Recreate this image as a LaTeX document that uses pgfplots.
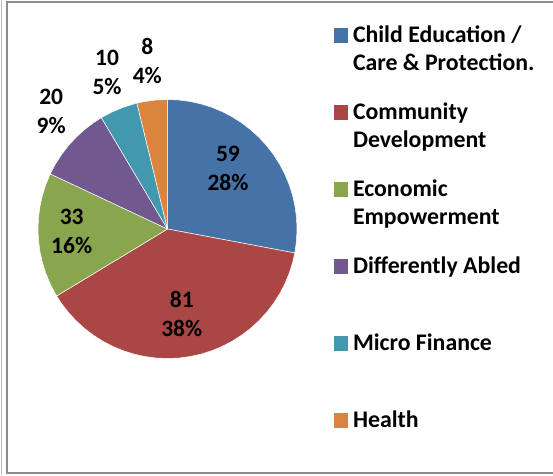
\documentclass[border=0pt]{standalone}
\usepackage{pgfplots}
\pgfplotsset{compat=1.18}
\usepgfplotslibrary{polar}
\usepackage{fontspec}
\setmainfont{Carlito}
\definecolor{cBlue}{HTML}{4572A7}
\definecolor{cRed}{HTML}{AA4643}
\definecolor{cGreen}{HTML}{89A54E}
\definecolor{cPurple}{HTML}{71588F}
\definecolor{cAqua}{HTML}{4198AF}
\definecolor{cOrange}{HTML}{DB843D}
\begin{document}
\begin{tikzpicture}
\useasboundingbox (0pt,0pt) rectangle (553pt,475pt);
\draw[black!25, line width=1pt] (1pt,0pt) -- (1pt,475pt);
\draw[black!45, line width=2pt] (7pt,2pt) rectangle (600pt,473pt);
\begin{axis}[at={(167.5pt,246pt)}, anchor=center, width=259pt, height=259pt, scale only axis,
  xmin=-1, xmax=1, ymin=-1, ymax=1, hide axis, clip=false,
  legend style={at={(axis description cs:1.1429,1.2788)}, anchor=north west, draw=none, fill=none,
    inner sep=0pt, outer sep=0pt, row sep=0pt, column sep=5pt,
    font=\fontsize{23.8}{28}\selectfont\bfseries,
    cells={anchor=base west},
    nodes={inner sep=0pt, text height=15pt, text depth=62pt, anchor=base west}},
  legend image code/.code={\fill[#1,draw=none] (0pt,-0.3pt) rectangle (14pt,14.2pt);},
]
% Child Education / Care & Protection: 59
\addplot[data cs=polar, fill=cBlue, draw=white, line width=0.5pt] coordinates {
 (0,0) (90,1) (85,1) (80,1) (75,1) (70,1) (65,1) (60,1) (55,1) (50,1) (45,1) (40,1) (35,1)
 (30,1) (25,1) (20,1) (15,1) (10,1) (5,1) (0,1) (-5,1) (-10,1) (-10.664,1) (0,0)};
\addlegendentry{\parbox[t]{200pt}{Child Education /\\Care \& Protection.}}
% Community Development: 81
\addplot[data cs=polar, fill=cRed, draw=white, line width=0.5pt] coordinates {
 (0,0) (-10.664,1) (-15,1) (-20,1) (-25,1) (-30,1) (-35,1) (-40,1) (-45,1) (-50,1) (-55,1)
 (-60,1) (-65,1) (-70,1) (-75,1) (-80,1) (-85,1) (-90,1) (-95,1) (-100,1) (-105,1) (-110,1)
 (-115,1) (-120,1) (-125,1) (-130,1) (-135,1) (-140,1) (-145,1) (-148.863,1) (0,0)};
\addlegendentry{\parbox[t]{200pt}{Community\\Development}}
% Economic Empowerment: 33
\addplot[data cs=polar, fill=cGreen, draw=white, line width=0.5pt] coordinates {
 (0,0) (-148.863,1) (-150,1) (-155,1) (-160,1) (-165,1) (-170,1) (-175,1) (-180,1) (-185,1)
 (-190,1) (-195,1) (-200,1) (-205,1) (-205.166,1) (0,0)};
\addlegendentry{\parbox[t]{200pt}{Economic\\Empowerment}}
% Differently Abled: 20
\addplot[data cs=polar, fill=cPurple, draw=white, line width=0.5pt] coordinates {
 (0,0) (-205.166,1) (-210,1) (-215,1) (-220,1) (-225,1) (-230,1) (-235,1) (-239.289,1) (0,0)};
\addlegendentry{Differently Abled}
% Micro Finance: 10
\addplot[data cs=polar, fill=cAqua, draw=white, line width=0.5pt] coordinates {
 (0,0) (-239.289,1) (-240,1) (-245,1) (-250,1) (-255,1) (-256.351,1) (0,0)};
\addlegendentry{Micro Finance}
% Health: 8
\addplot[data cs=polar, fill=cOrange, draw=white, line width=0.5pt] coordinates {
 (0,0) (-256.351,1) (-260,1) (-265,1) (-270,1) (0,0)};
\addlegendentry{Health}
\tikzset{lbl/.style={font=\fontsize{23.5}{29}\selectfont\bfseries, align=center, inner sep=0pt}}
\node[lbl] at (axis cs:0.467,0.469) {59\\28\%};
\node[lbl] at (axis cs:0.110,-0.658) {81\\38\%};
\node[lbl] at (axis cs:-0.740,-0.021) {33\\16\%};
\node[lbl] at (axis cs:-0.898,0.909) {20\\9\%};
\node[lbl] at (axis cs:-0.467,1.206) {10\\5\%};
\node[lbl] at (axis cs:-0.156,1.297) {8\\4\%};
\end{axis}
\end{tikzpicture}
\end{document}
